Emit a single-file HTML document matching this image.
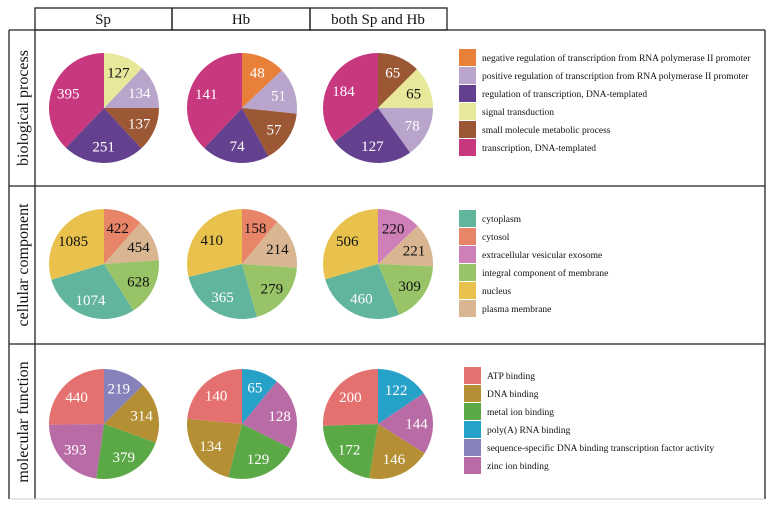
<!DOCTYPE html>
<html><head><meta charset="utf-8"><style>
body{margin:0;background:#fff;}
svg{display:block;font-family:"Liberation Serif",serif;}
</style></head><body>
<svg id="c" width="774" height="506" viewBox="0 0 774 506" xmlns="http://www.w3.org/2000/svg">
<g stroke="#222" stroke-width="1.3" fill="none">
<rect x="35" y="8" width="137" height="22"/>
<rect x="172" y="8" width="138" height="22"/>
<rect x="310" y="8" width="137" height="22"/>
<line x1="9" y1="30" x2="765" y2="30"/>
<line x1="9" y1="186" x2="765" y2="186"/>
<line x1="9" y1="344" x2="765" y2="344"/>
<line x1="9" y1="30" x2="9" y2="499"/>
<line x1="35" y1="30" x2="35" y2="499"/>
<line x1="765" y1="30" x2="765" y2="499"/>
</g>
<line x1="9" y1="499" x2="765" y2="499" stroke="#ccc" stroke-width="1"/>
<g font-size="15" text-anchor="middle" fill="#111">
<text x="103" y="24">Sp</text>
<text x="241" y="24">Hb</text>
<text x="378" y="24">both Sp and Hb</text>
<text transform="translate(28,108) rotate(-90)" font-size="16">biological process</text>
<text transform="translate(28,265) rotate(-90)" font-size="16">cellular component</text>
<text transform="translate(28,422) rotate(-90)" font-size="16">molecular function</text>
</g>
<g id="pies"></g>
<g id="legends"></g>
</svg>
<script>
// Categories per row
const bpCategories = ["negative regulation of transcription from RNA polymerase II promoter","positive regulation of transcription from RNA polymerase II promoter","regulation of transcription, DNA-templated","signal transduction","small molecule metabolic process","transcription, DNA-templated"];
const ccCategories = ["cytoplasm","cytosol","extracellular vesicular exosome","integral component of membrane","nucleus","plasma membrane"];
const mfCategories = ["ATP binding","DNA binding","metal ion binding","poly(A) RNA binding","sequence-specific DNA binding transcription factor activity","zinc ion binding"];
// Slices clockwise from 12 o'clock: category index arrays and values
const bpSpCats = [3,1,4,2,5];   const bpSpValues = [127,134,137,251,395];
const bpHbCats = [0,1,4,2,5];   const bpHbValues = [48,51,57,74,141];
const bpBothCats = [4,3,1,2,5]; const bpBothValues = [65,65,78,127,184];
const ccSpCats = [1,5,3,0,4];   const ccSpValues = [422,454,628,1074,1085];
const ccHbCats = [1,5,3,0,4];   const ccHbValues = [158,214,279,365,410];
const ccBothCats = [2,5,3,0,4]; const ccBothValues = [220,221,309,460,506];
const mfSpCats = [4,1,2,5,0];   const mfSpValues = [219,314,379,393,440];
const mfHbCats = [3,5,2,1,0];   const mfHbValues = [65,128,129,134,140];
const mfBothCats = [3,5,1,2,0]; const mfBothValues = [122,144,146,172,200];

const bpColors=["#E8803A","#B9A5CC","#64418E","#E8E89A","#9C5735","#C7387F"];
const bpText=["#fff","#fff","#fff","#111","#fff","#fff"];
const ccColors=["#62B59D","#E88468","#CE7FB7","#98C467","#E9C24E","#D9B592"];
const ccText=["#fff","#111","#111","#111","#111","#111"];
const mfColors=["#E4716F","#B58F34","#5BA847","#26A2C9","#8783BA","#B96BA6"];
const mfText=["#fff","#fff","#fff","#fff","#fff","#fff"];

const NS="http://www.w3.org/2000/svg";
const pies=document.getElementById('pies'), legends=document.getElementById('legends');
const cols=[104,242,378], R=55;
const rows=[
 {name:'bp',cy:108,cats:bpCategories,colors:bpColors,txt:bpText,pies:[[bpSpCats,bpSpValues],[bpHbCats,bpHbValues],[bpBothCats,bpBothValues]],lx:459,ly:49},
 {name:'cc',cy:264,cats:ccCategories,colors:ccColors,txt:ccText,pies:[[ccSpCats,ccSpValues],[ccHbCats,ccHbValues],[ccBothCats,ccBothValues]],lx:459,ly:210},
 {name:'mf',cy:424,cats:mfCategories,colors:mfColors,txt:mfText,pies:[[mfSpCats,mfSpValues],[mfHbCats,mfHbValues],[mfBothCats,mfBothValues]],lx:464,ly:367}
];
function pt(cx,cy,r,a){return [cx+r*Math.sin(a),cy-r*Math.cos(a)];}
rows.forEach(row=>{
 row.pies.forEach((p,pi)=>{
  const cats=p[0],vals=p[1],cx=cols[pi],cy=row.cy;
  const tot=vals.reduce((a,b)=>a+b,0);
  let a0=0;
  vals.forEach((v,i)=>{
   const a1=a0+v/tot*2*Math.PI;
   const [x0,y0]=pt(cx,cy,R,a0),[x1,y1]=pt(cx,cy,R,a1);
   const path=document.createElementNS(NS,'path');
   path.setAttribute('d',`M${cx},${cy}L${x0},${y0}A${R},${R} 0 ${a1-a0>Math.PI?1:0} 1 ${x1},${y1}Z`);
   path.setAttribute('fill',row.colors[cats[i]]);
   
   
   pies.appendChild(path);
   const [tx,ty]=pt(cx,cy,R*0.7,(a0+a1)/2);
   const t=document.createElementNS(NS,'text');
   t.setAttribute('x',tx);t.setAttribute('y',ty+5);
   t.setAttribute('text-anchor','middle');t.setAttribute('font-size','15');
   t.setAttribute('fill',row.txt[cats[i]]);
   t.textContent=v;
   
   
   pies.appendChild(t);
   a0=a1;
  });
 });
 row.cats.forEach((c,i)=>{
  const r=document.createElementNS(NS,'rect');
  r.setAttribute('x',row.lx);r.setAttribute('y',row.ly+i*18);
  r.setAttribute('width',17);r.setAttribute('height',17);
  r.setAttribute('fill',row.colors[i]);
  
  
  legends.appendChild(r);
  const t=document.createElementNS(NS,'text');
  t.setAttribute('x',row.lx+23);t.setAttribute('y',row.ly+i*18+12);
  t.setAttribute('font-size','9.5');t.setAttribute('fill','#111');
  t.textContent=c;
  
  
  legends.appendChild(t);
 });
});
</script>
</body></html>
